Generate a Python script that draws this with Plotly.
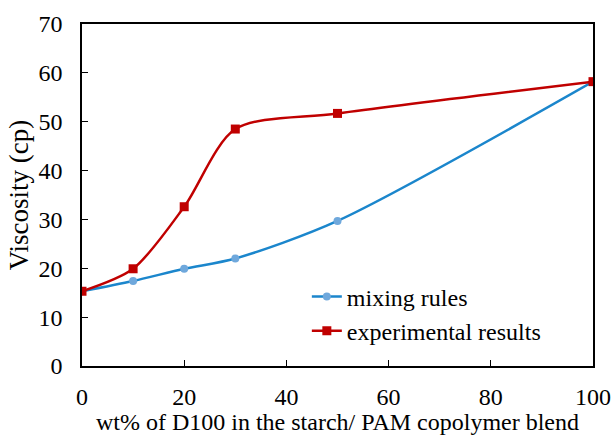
import plotly.graph_objects as go

# data
wt_pct = [0, 10, 20, 30, 50, 100]
mixing_rules = [15.3, 17.4, 19.9, 22.0, 29.7, 58.2]
experimental = [15.3, 19.9, 32.6, 48.5, 51.7, 58.2]

x_ticks = [0, 20, 40, 60, 80, 100]
y_ticks = [0, 10, 20, 30, 40, 50, 60, 70]

serif = "Liberation Serif, Times New Roman, serif"

fig = go.Figure()
fig.add_trace(go.Scatter(x=wt_pct, y=mixing_rules, name="mixing rules",
                         mode="lines+markers", line=dict(color="#1B86CC", width=2.5, shape="spline", smoothing=0.8),
                         marker=dict(symbol="circle", size=8, color="#6FA8DC")))
fig.add_trace(go.Scatter(x=wt_pct, y=experimental, name="experimental results",
                         mode="lines+markers", line=dict(color="#C00000", width=2.5, shape="spline", smoothing=0.8),
                         marker=dict(symbol="square", size=9, color="#C00000")))

fig.update_layout(
    width=611, height=435,
    margin=dict(l=82, r=18, t=24, b=69, autoexpand=False),
    paper_bgcolor="white", plot_bgcolor="white",
    font=dict(family=serif, size=22, color="black"),
    showlegend=True,
    legend=dict(x=0.44, y=0.268, xanchor="left", yanchor="top", bgcolor="rgba(0,0,0,0)",
                font=dict(family=serif, size=24), tracegroupgap=0, itemwidth=30),
)
fig.update_xaxes(range=[0, 100], tickvals=x_ticks, ticks="inside", ticklen=6, tickcolor="black",
                 showline=True, linecolor="black", linewidth=1.5, mirror=True, showgrid=False, zeroline=False,
                 ticklabelstandoff=8,
                 title=dict(text="wt% of D100 in the starch/ PAM copolymer blend", standoff=4,
                            font=dict(family=serif, size=24, color="black")),
                 tickfont=dict(family=serif, size=24))
fig.update_yaxes(range=[0, 70], tickvals=y_ticks, ticks="inside", ticklen=6, tickcolor="black",
                 showline=True, linecolor="black", linewidth=1.5, mirror=True, showgrid=False, zeroline=False,
                 ticklabelstandoff=13,
                 title=dict(text="Viscosity (cp)", standoff=2, font=dict(family=serif, size=27, color="black")),
                 tickfont=dict(family=serif, size=24))

# drop the default 8px body margin so the figure sits at the window's corner
fig.write_html("out.html", config={"displayModeBar": False},
               post_script="document.body.style.margin='0';")
